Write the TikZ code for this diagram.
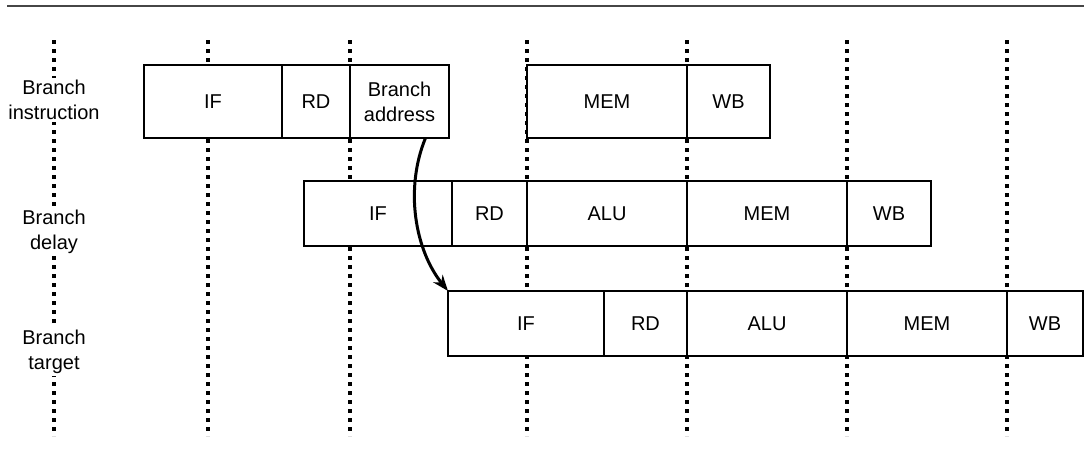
\documentclass[tikz,border=0pt]{standalone}
\usepackage{fontspec}
\newfontfamily\stagefont{Liberation Sans}
\usepackage{tikz}
\usetikzlibrary{arrows.meta, positioning}
\definecolor{rulegray}{RGB}{70,70,70}

\tikzset{
  stage/.style={draw, fill=white, line width=0.75pt, inner sep=0pt, outer sep=0pt,
    align=center, font=\stagefont\fontsize{10}{12.5}\selectfont},
  rowlabel/.style={fill=white, inner sep=1pt, align=center,
    font=\stagefont\fontsize{10}{12.5}\selectfont},
  cycleline/.style={line width=1.7pt, dash pattern=on 2pt off 2.5pt},
  flow/.style={line width=1.5pt, -{Stealth[length=8pt, width=6pt]}}
}

\begin{document}
\begin{tikzpicture}[x=0.5pt, y=-0.5pt]
  \useasboundingbox (0,0) rectangle (1084,466);
  % top rule
  \draw[rulegray, line width=1pt] (7,6) -- (1084,6);
  % clock cycle boundaries
  \foreach \cx in {54,208,350,527,687,847,1007}
    \draw[cycleline] (\cx,40) -- (\cx,436);
  % row labels
  \node[rowlabel] (lbinstr) at (54,100) {Branch\\instruction};
  \node[rowlabel] (lbdelay) at (54,232) {Branch\\delay};
  \node[rowlabel] (lbtarget) at (54,352) {Branch\\target};

  % branch instruction
  \begin{scope}[every node/.append style={minimum height=36.5pt}]
    \node[stage, anchor=north west, minimum width=69pt] (bif) at (144,65) {IF};
    \node[stage, right=0pt of bif, minimum width=34pt] (brd) {RD};
    \node[stage, right=0pt of brd, minimum width=49.5pt] (addr) {Branch\\address};
    \node[stage, anchor=north west, minimum width=80pt] (bmem) at (527,65) {MEM};
    \node[stage, right=0pt of bmem, minimum width=41.5pt] (bwb) {WB};
  \end{scope}

  % branch delay slot
  \begin{scope}[every node/.append style={minimum height=32.5pt}]
    \node[stage, anchor=north west, minimum width=74pt] (dif) at (304,181) {IF};
    \node[stage, right=0pt of dif, minimum width=37.5pt] (drd) {RD};
    \node[stage, right=0pt of drd, minimum width=80pt] (dalu) {ALU};
    \node[stage, right=0pt of dalu, minimum width=80pt] (dmem) {MEM};
    \node[stage, right=0pt of dmem, minimum width=42pt] (dwb) {WB};
  \end{scope}

  % branch target
  \begin{scope}[every node/.append style={minimum height=32.5pt}]
    \node[stage, anchor=north west, minimum width=78pt] (tif) at (448,291) {IF};
    \node[stage, right=0pt of tif, minimum width=41.5pt] (trd) {RD};
    \node[stage, right=0pt of trd, minimum width=80pt] (talu) {ALU};
    \node[stage, right=0pt of talu, minimum width=80pt] (tmem) {MEM};
    \node[stage, right=0pt of tmem, minimum width=38pt] (twb) {WB};
  \end{scope}

  % address feeds the target fetch
  \draw[flow] ([xshift=13pt]addr.south)
    .. controls +(-10.5pt,-25.5pt) and +(-16.5pt,20.5pt) .. (tif.north west);
\end{tikzpicture}
\end{document}
